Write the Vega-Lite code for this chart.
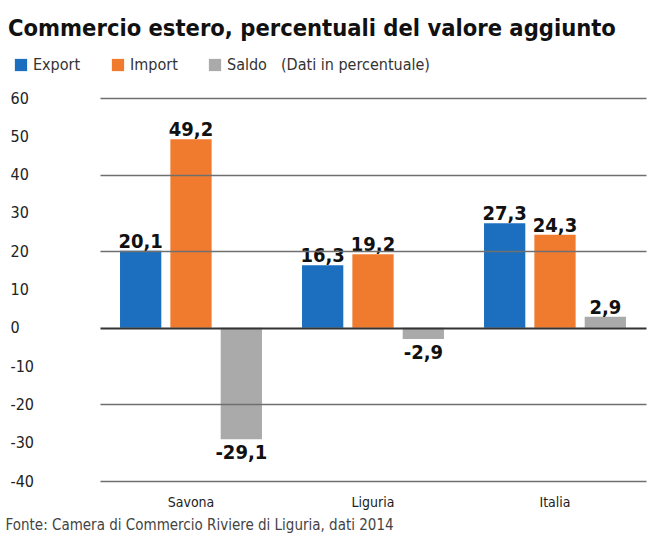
{
  "$schema": "https://vega.github.io/schema/vega-lite/v6.json",
  "autosize": "none",
  "width": 546,
  "height": 383,
  "padding": {"left": 100, "top": 98, "right": 2, "bottom": 56},
  "background": "white",
  "config": {
    "locale": {"number": {"decimal": ",", "thousands": ".", "grouping": [3], "currency": ["€", ""], "minus": "-"}},
    "view": {"stroke": null},
    "font": "DejaVu Sans Condensed, sans-serif"
  },
  "title": {
    "text": "Commercio estero, percentuali del valore aggiunto",
    "anchor": "start",
    "frame": "group",
    "dx": -92,
    "offset": 17,
    "fontSize": 23.5,
    "fontWeight": "bold",
    "color": "#111111"
  },
  "data": {
    "values": [
      {"area": "Savona", "serie": "Export", "valore": 20.1},
      {"area": "Savona", "serie": "Import", "valore": 49.2},
      {"area": "Savona", "serie": "Saldo", "valore": -29.1},
      {"area": "Liguria", "serie": "Export", "valore": 16.3},
      {"area": "Liguria", "serie": "Import", "valore": 19.2},
      {"area": "Liguria", "serie": "Saldo", "valore": -2.9},
      {"area": "Italia", "serie": "Export", "valore": 27.3},
      {"area": "Italia", "serie": "Import", "valore": 24.3},
      {"area": "Italia", "serie": "Saldo", "valore": 2.9}
    ]
  },
  "encoding": {
    "x": {
      "field": "area",
      "type": "nominal",
      "sort": ["Savona", "Liguria", "Italia"],
      "scale": {"paddingInner": 0.22, "paddingOuter": 0.11},
      "axis": {
        "title": "Fonte: Camera di Commercio Riviere di Liguria, dati 2014",
        "titleAnchor": "start",
        "titleX": -95,
        "titleY": 36,
        "titleFontSize": 15,
        "titleFontWeight": "normal",
        "titleColor": "#444444",
        "labelAngle": 0,
        "labelFontSize": 14,
        "labelColor": "#222222",
        "labelPadding": 14,
        "ticks": false,
        "domain": false
      }
    },
    "xOffset": {
      "field": "serie",
      "type": "nominal",
      "scale": {"paddingInner": 0.18, "paddingOuter": 0}
    },
    "y": {
      "field": "valore",
      "type": "quantitative",
      "scale": {"domain": [-40, 60], "nice": false},
      "axis": {
        "title": null,
        "values": [-40, -30, -20, -10, 0, 10, 20, 30, 40, 50, 60],
        "labelAlign": "left",
        "labelPadding": 90,
        "labelFontSize": 16,
        "labelColor": "#222222",
        "ticks": false,
        "domain": false,
        "zindex": 1,
        "grid": true,
        "gridColor": {"condition": {"test": "datum.value === 0", "value": "#333333"}, "value": "#6f6f6f"},
        "gridWidth": {"condition": {"test": "datum.value === 0", "value": 2}, "value": 1.5},
        "gridOpacity": {"condition": {"test": "datum.value % 20 !== 0", "value": 0}, "value": 1}
      }
    }
  },
  "layer": [
    {
      "mark": {"type": "bar"},
      "encoding": {
        "color": {
          "field": "serie",
          "type": "nominal",
          "scale": {"domain": ["Export", "Import", "Saldo"], "range": ["#1b6fbe", "#f07b2f", "#aaaaaa"]},
          "legend": {
            "title": "(Dati in percentuale)",
            "titleOrient": "right",
            "orient": "none",
            "direction": "horizontal",
            "legendX": -87,
            "legendY": -41,
            "symbolType": "square",
            "symbolSize": 150,
            "symbolStrokeWidth": 0,
            "labelFontSize": 16,
            "labelColor": "#333333",
            "titleFontSize": 16,
            "titleFontWeight": "normal",
            "titleColor": "#333333",
            "titlePadding": 14,
            "columnPadding": 29,
            "labelOffset": 4
          }
        }
      }
    },
    {
      "transform": [{"filter": "datum.valore >= 0"}],
      "mark": {"type": "text", "fontWeight": "bold", "fontSize": 20, "color": "#111111", "baseline": "bottom", "dy": 1},
      "encoding": {
        "text": {"field": "valore", "type": "quantitative", "format": ".1f"}
      }
    },
    {
      "transform": [{"filter": "datum.valore < 0"}],
      "mark": {"type": "text", "fontWeight": "bold", "fontSize": 20, "color": "#111111", "baseline": "top", "dy": 4},
      "encoding": {
        "text": {"field": "valore", "type": "quantitative", "format": ".1f"}
      }
    }
  ]
}
